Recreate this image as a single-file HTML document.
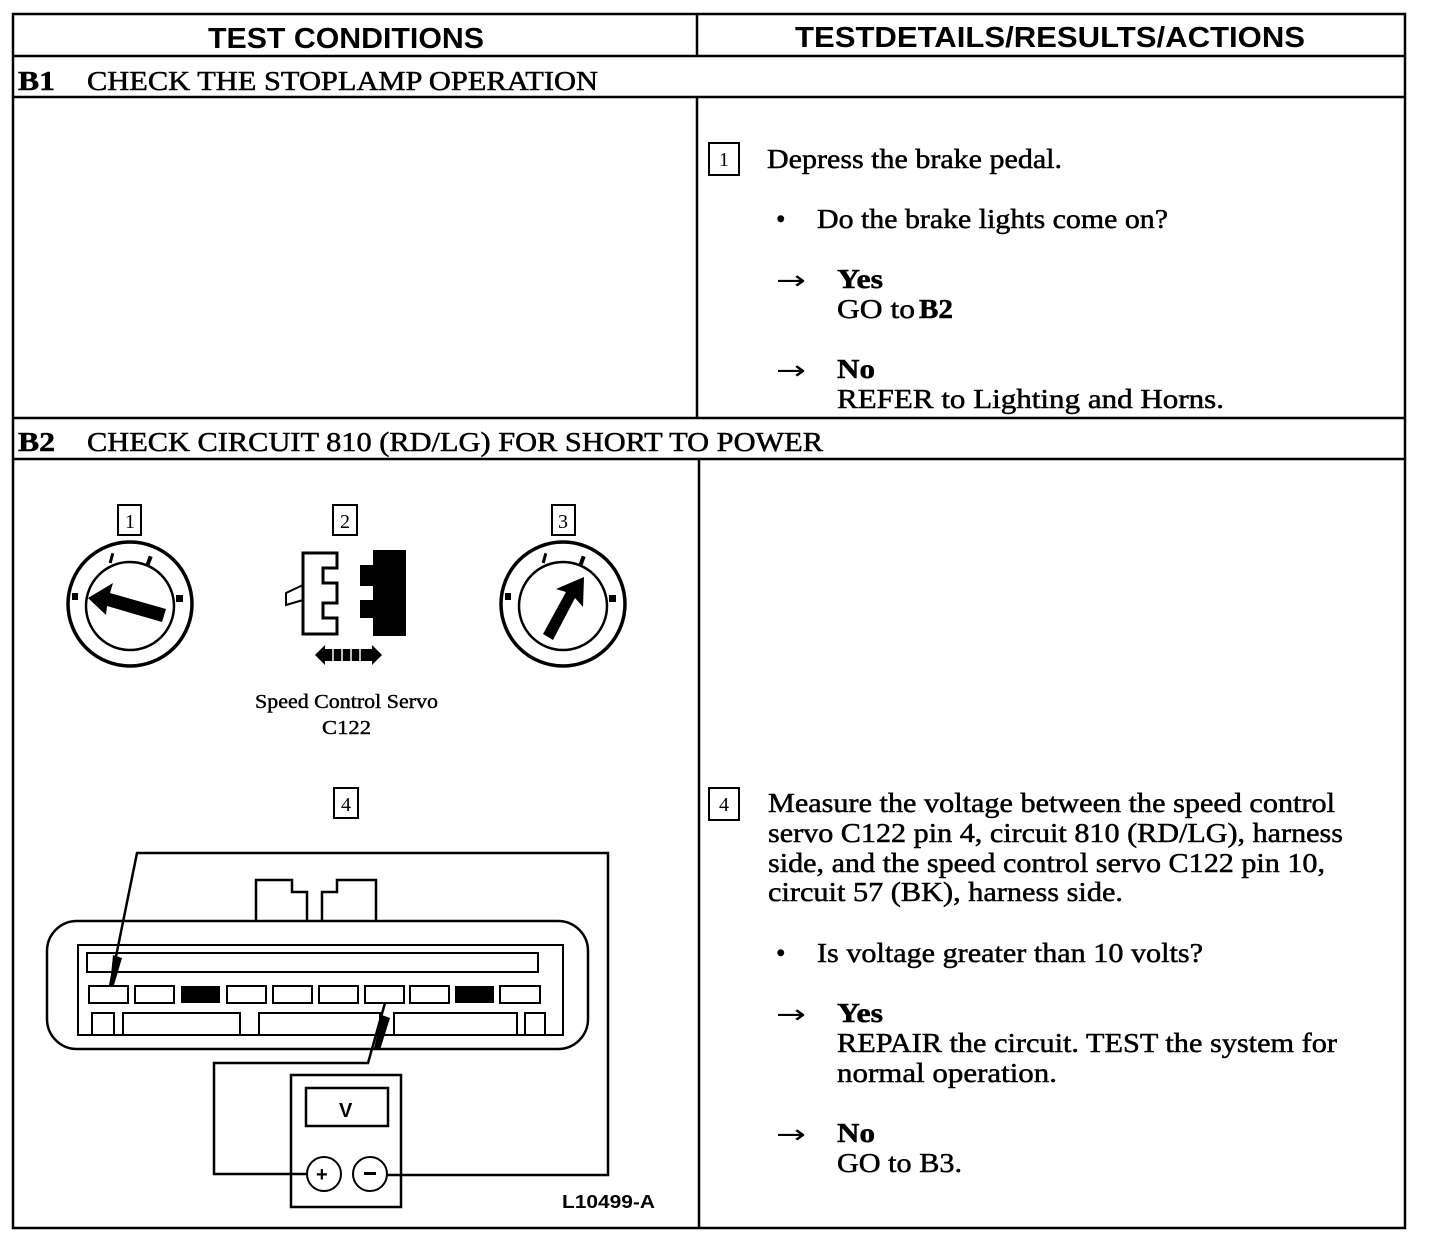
<!DOCTYPE html>
<html><head><meta charset="utf-8"><style>html,body{margin:0;padding:0;background:#fff}svg{display:block}
.s{font-family:"Liberation Serif",serif;font-size:27px;fill:#000;stroke:#000;stroke-width:.5}
.b{font-weight:bold}
.h{font-family:"Liberation Sans",sans-serif;font-weight:bold;font-size:29px}
.n{font-family:"Liberation Serif",serif;font-size:20px}
.a{font-family:"DejaVu Sans",sans-serif;font-size:26px}
</style></head><body>
<svg width="1440" height="1244" viewBox="0 0 1440 1244" xmlns="http://www.w3.org/2000/svg">
<g fill="none" stroke="#000" stroke-width="2.5">
<rect x="13" y="14" width="1392" height="1214"/>
<line x1="13" y1="56" x2="1405" y2="56"/>
<line x1="13" y1="97" x2="1405" y2="97"/>
<line x1="13" y1="418" x2="1405" y2="418"/>
<line x1="13" y1="459" x2="1405" y2="459"/>
<line x1="697" y1="14" x2="697" y2="56"/>
<line x1="697" y1="97" x2="697" y2="418"/>
<line x1="699" y1="459" x2="699" y2="1228"/>
</g>
<text class="h" x="208" y="48" textLength="276" lengthAdjust="spacingAndGlyphs">TEST CONDITIONS</text>
<text class="h" x="795" y="47" textLength="510" lengthAdjust="spacingAndGlyphs">TESTDETAILS/RESULTS/ACTIONS</text>
<text class="s b" x="18" y="90" textLength="37" lengthAdjust="spacingAndGlyphs">B1</text>
<text class="s" x="87" y="90" textLength="511" lengthAdjust="spacingAndGlyphs">CHECK THE STOPLAMP OPERATION</text>
<text class="s b" x="18" y="451" textLength="37" lengthAdjust="spacingAndGlyphs">B2</text>
<text class="s" x="87" y="451" textLength="736" lengthAdjust="spacingAndGlyphs">CHECK CIRCUIT 810 (RD/LG) FOR SHORT TO POWER</text>

<!-- upper right -->
<rect x="709" y="143" width="30" height="32" fill="none" stroke="#000" stroke-width="2"/>
<text class="n" x="719" y="166">1</text>
<text class="s" x="767" y="168" textLength="295" lengthAdjust="spacingAndGlyphs">Depress the brake pedal.</text>
<text class="s" x="776" y="228">•</text>
<text class="s" x="817" y="228" textLength="351" lengthAdjust="spacingAndGlyphs">Do the brake lights come on?</text>
<text class="a" x="776" y="289" textLength="30" lengthAdjust="spacingAndGlyphs">→</text>
<text class="s b" x="837" y="288" textLength="46" lengthAdjust="spacingAndGlyphs">Yes</text>
<text class="s" x="837" y="318" textLength="78" lengthAdjust="spacingAndGlyphs">GO to</text>
<text class="s b" x="919" y="318" textLength="34" lengthAdjust="spacingAndGlyphs">B2</text>
<text class="a" x="776" y="379" textLength="30" lengthAdjust="spacingAndGlyphs">→</text>
<text class="s b" x="837" y="378" textLength="38" lengthAdjust="spacingAndGlyphs">No</text>
<text class="s" x="837" y="408" textLength="387" lengthAdjust="spacingAndGlyphs">REFER to Lighting and Horns.</text>

<!-- lower right -->
<rect x="709" y="788" width="30" height="32" fill="none" stroke="#000" stroke-width="2"/>
<text class="n" x="719" y="811">4</text>
<text class="s" x="768" y="812" textLength="567" lengthAdjust="spacingAndGlyphs">Measure the voltage between the speed control</text>
<text class="s" x="768" y="842" textLength="575" lengthAdjust="spacingAndGlyphs">servo C122 pin 4, circuit 810 (RD/LG), harness</text>
<text class="s" x="768" y="872" textLength="557" lengthAdjust="spacingAndGlyphs">side, and the speed control servo C122 pin 10,</text>
<text class="s" x="768" y="901" textLength="355" lengthAdjust="spacingAndGlyphs">circuit 57 (BK), harness side.</text>
<text class="s" x="776" y="962">•</text>
<text class="s" x="817" y="962" textLength="386" lengthAdjust="spacingAndGlyphs">Is voltage greater than 10 volts?</text>
<text class="a" x="776" y="1023" textLength="30" lengthAdjust="spacingAndGlyphs">→</text>
<text class="s b" x="837" y="1022" textLength="46" lengthAdjust="spacingAndGlyphs">Yes</text>
<text class="s" x="837" y="1052" textLength="500" lengthAdjust="spacingAndGlyphs">REPAIR the circuit. TEST the system for</text>
<text class="s" x="837" y="1082" textLength="220" lengthAdjust="spacingAndGlyphs">normal operation.</text>
<text class="a" x="776" y="1143" textLength="30" lengthAdjust="spacingAndGlyphs">→</text>
<text class="s b" x="837" y="1142" textLength="38" lengthAdjust="spacingAndGlyphs">No</text>
<text class="s" x="837" y="1172" textLength="125" lengthAdjust="spacingAndGlyphs">GO to B3.</text>

<!-- step boxes left -->
<g fill="none" stroke="#000" stroke-width="2">
<rect x="118" y="505" width="23" height="30"/>
<rect x="333" y="505" width="24" height="30"/>
<rect x="552" y="505" width="23" height="30"/>
<rect x="334" y="788" width="24" height="30"/>
</g>
<text class="n" x="125" y="528">1</text>
<text class="n" x="340" y="528">2</text>
<text class="n" x="558" y="528">3</text>
<text class="n" x="341" y="811">4</text>

<!-- dials -->
<g fill="none" stroke="#000" stroke-width="3.5">
<circle cx="130" cy="604" r="62"/>
<circle cx="130" cy="606" r="44" stroke-width="2.5"/>
<circle cx="563" cy="604" r="62"/>
<circle cx="563" cy="606" r="44" stroke-width="2.5"/>
</g>
<g fill="#000">
<polygon points="88,598 113,583 110,593 166,609 162,622 107,606 106,615"/>
<rect x="110" y="553" width="3" height="10" transform="rotate(15 111 558)"/>
<rect x="147" y="556" width="4" height="10" transform="rotate(20 149 561)"/>
<rect x="72" y="593" width="6" height="7"/>
<rect x="176" y="595" width="7" height="7"/>
<polygon points="584,577 583,607 575,598 553,640 543,634 566,592 556,589"/>
<rect x="543" y="553" width="3" height="10" transform="rotate(15 544 558)"/>
<rect x="580" y="556" width="4" height="10" transform="rotate(20 582 561)"/>
<rect x="505" y="593" width="6" height="7"/>
<rect x="609" y="595" width="7" height="7"/>
</g>

<!-- connector icon 2 -->
<path d="M303,553 H337 V568 H323 V583 H337 V603 H323 V618 H337 V634 H303 Z" fill="none" stroke="#000" stroke-width="3"/>
<path d="M303,585 L286,593 L286,605 L303,600" fill="none" stroke="#000" stroke-width="2"/>
<path d="M373,550 H406 V636 H373 V618 H360 V600 H373 V586 H360 V565 H373 Z" fill="#000"/>
<polygon points="315,655 325,645 325,665" fill="#000"/>
<polygon points="382,655 372,645 372,665" fill="#000"/>
<rect x="325" y="649" width="47" height="12" fill="#000"/>
<g stroke="#fff" stroke-width="1.5"><line x1="333" y1="649" x2="333" y2="661"/><line x1="342" y1="649" x2="342" y2="661"/><line x1="351" y1="649" x2="351" y2="661"/><line x1="360" y1="649" x2="360" y2="661"/></g>
<text class="s" style="font-size:20px;stroke-width:.4" x="255" y="708" textLength="183" lengthAdjust="spacingAndGlyphs">Speed Control Servo</text>
<text class="s" style="font-size:20px;stroke-width:.4" x="322" y="734" textLength="49" lengthAdjust="spacingAndGlyphs">C122</text>

<!-- connector 4 -->
<g fill="none" stroke="#000" stroke-width="2.5">
<path d="M256,921 V880 H292 V892 H307 V921 M322,921 V892 H337 V880 H376 V921"/>
<rect x="47" y="921" width="541" height="128" rx="30"/>
<rect x="78" y="945" width="485" height="90" stroke-width="2"/>
<rect x="87" y="953" width="451" height="19" stroke-width="2"/>
<g stroke-width="2">
<rect x="89" y="986" width="39" height="17"/><rect x="135" y="986" width="39" height="17"/>
<rect x="227" y="986" width="39" height="17"/><rect x="273" y="986" width="39" height="17"/>
<rect x="319" y="986" width="39" height="17"/><rect x="365" y="986" width="39" height="17"/>
<rect x="410" y="986" width="39" height="17"/><rect x="500" y="986" width="40" height="17"/>
<path d="M92,1035 V1013 H114 V1035 M123,1035 V1013 H240 V1035 M259,1035 V1013 H380 V1035 M394,1035 V1013 H517 V1035 M525,1035 V1013 H545 V1035"/>
</g>
<path d="M110,986 L137,853 H608 V1175 H386"/>
<path d="M385,1003 L368,1063 H214 V1174 H307"/>
<rect x="291" y="1075" width="110" height="132"/>
<rect x="306" y="1088" width="82" height="38"/>
<circle cx="324" cy="1174" r="17" stroke-width="2"/>
<circle cx="370" cy="1174" r="17" stroke-width="2"/>
</g>
<rect x="181" y="986" width="39" height="17" fill="#000"/>
<rect x="455" y="986" width="39" height="17" fill="#000"/>
<polygon points="113,955 122,958 114,985 110,985" fill="#000"/>
<polygon points="382,1015 390,1018 380,1050 374,1048" fill="#000"/>
<text x="339" y="1117" font-family="Liberation Sans,sans-serif" font-weight="bold" font-size="20">V</text>
<text x="316" y="1181" font-family="Liberation Sans,sans-serif" font-weight="bold" font-size="20">+</text>
<rect x="364" y="1172" width="12" height="3" fill="#000"/>
<text x="562" y="1208" font-family="Liberation Sans,sans-serif" font-weight="bold" font-size="18" textLength="93" lengthAdjust="spacingAndGlyphs">L10499-A</text>
</svg>
</body></html>
